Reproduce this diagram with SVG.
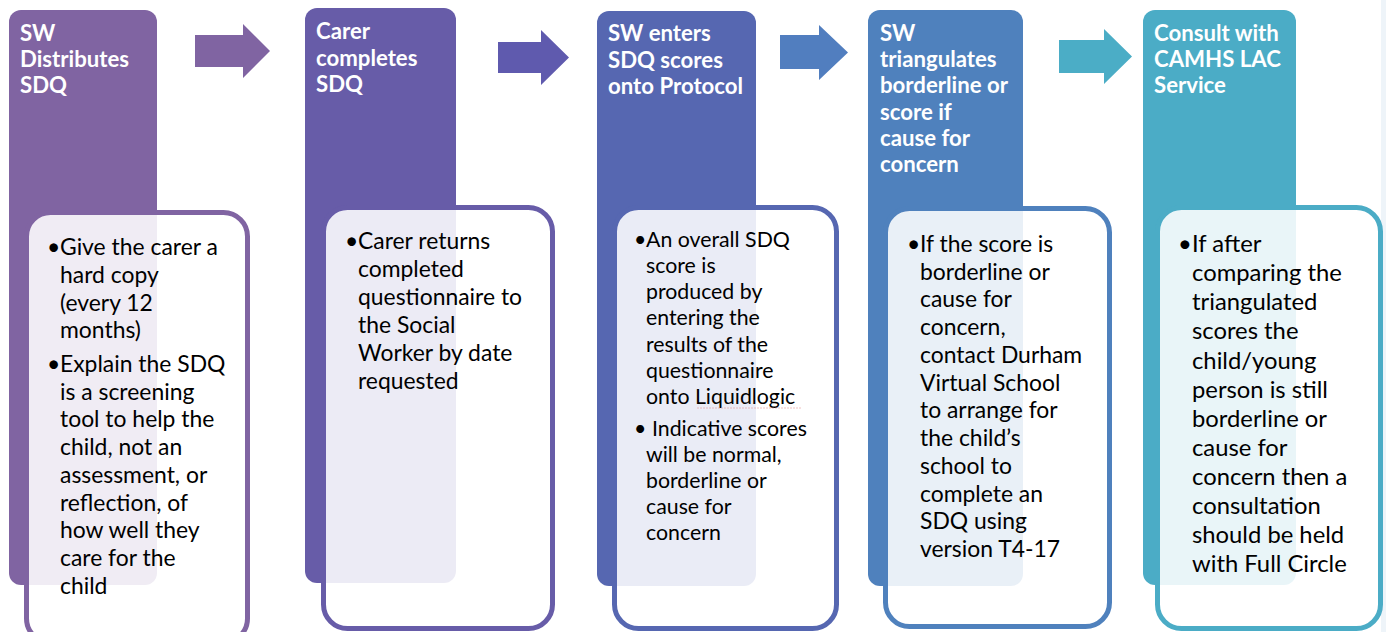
<svg xmlns="http://www.w3.org/2000/svg" width="1386" height="632" viewBox="0 0 1386 632">
<style>
.hdr{font-family:Lato,"Open Sans","Liberation Sans",sans-serif;font-weight:700;font-size:22.2px;fill:#ffffff}
.body{font-family:Lato,"Open Sans","Liberation Sans",sans-serif;font-size:22.9px;fill:#000000}
.card{fill:#ffffff;fill-opacity:0.88;stroke-width:5}
</style>
<rect x="0" y="0" width="1386" height="632" fill="#ffffff"/>
<rect x="1381" y="0" width="5" height="632" fill="#eef4f9"/>
<g id="connectors">
<polygon points="195,35 243,35 243,24 270,51 243,78 243,67 195,67" fill="#8064a2"/>
<polygon points="498,42 541,42 541,30 569,57.5 541,85 541,73 498,73" fill="#5f5aae"/>
<polygon points="780,35 819,35 819,25 848,52.5 819,80 819,69 780,69" fill="#517ebf"/>
<polygon points="1059,40 1104,40 1104,29 1132,56.5 1104,84 1104,73 1059,73" fill="#4badc6"/>
</g>
<g id="step1">
<rect x="9" y="10" width="148" height="575" rx="12" fill="#8064a2"/>
<text class="hdr" x="20"><tspan x="20" y="41">SW</tspan><tspan x="20" y="67">Distributes</tspan><tspan x="20" y="93">SDQ</tspan></text>
<rect class="card" x="26.5" y="212.5" width="221" height="430" rx="24" stroke="#8064a2"/>
<text class="body"><tspan x="47" y="255">•</tspan><tspan x="60" y="255">Give the carer a</tspan><tspan x="60" y="283">hard copy</tspan><tspan x="60" y="311">(every 12</tspan><tspan x="60" y="338">months)</tspan><tspan x="47" y="372">•</tspan><tspan x="60" y="372">Explain the SDQ</tspan><tspan x="60" y="400">is a screening</tspan><tspan x="60" y="427">tool to help the</tspan><tspan x="60" y="455">child, not an</tspan><tspan x="60" y="483">assessment, or</tspan><tspan x="60" y="511">reflection, of</tspan><tspan x="60" y="538">how well they</tspan><tspan x="60" y="566">care for the</tspan><tspan x="60" y="594">child</tspan></text>
</g>
<g id="step2">
<rect x="305" y="8" width="151" height="575" rx="12" fill="#675ca8"/>
<text class="hdr"><tspan x="316" y="39">Carer</tspan><tspan x="316" y="66">completes</tspan><tspan x="316" y="92">SDQ</tspan></text>
<rect class="card" x="323.5" y="207.5" width="229" height="421" rx="24" stroke="#675ca8"/>
<text class="body"><tspan x="345" y="249">•</tspan><tspan x="358" y="249">Carer returns</tspan><tspan x="358" y="277">completed</tspan><tspan x="358" y="305">questionnaire to</tspan><tspan x="358" y="333">the Social</tspan><tspan x="358" y="361">Worker by date</tspan><tspan x="358" y="389">requested</tspan></text>
</g>
<g id="step3">
<rect x="597" y="11" width="159" height="575" rx="12" fill="#5667b1"/>
<text class="hdr"><tspan x="608" y="41">SW enters</tspan><tspan x="608" y="68">SDQ scores</tspan><tspan x="608" y="94">onto Protocol</tspan></text>
<rect class="card" x="614.5" y="207.5" width="222" height="421" rx="24" stroke="#5667b1"/>
<text class="body" style="font-size:21.3px"><tspan x="634" y="247">•</tspan><tspan x="646" y="247">An overall SDQ</tspan><tspan x="646" y="273">score is</tspan><tspan x="646" y="299">produced by</tspan><tspan x="646" y="325">entering the</tspan><tspan x="646" y="352">results of the</tspan><tspan x="646" y="378">questionnaire</tspan><tspan x="646" y="404">onto Liquidlogic</tspan><tspan x="634" y="436">•</tspan><tspan x="652" y="436">Indicative scores</tspan><tspan x="646" y="462">will be normal,</tspan><tspan x="646" y="488">borderline or</tspan><tspan x="646" y="514">cause for</tspan><tspan x="646" y="540">concern</tspan></text>
<line x1="697" y1="408" x2="801" y2="408" stroke="#e08080" stroke-width="0.8" stroke-dasharray="2,1" opacity="0.6"/>
</g>
<g id="step4">
<rect x="868" y="10" width="155" height="576" rx="12" fill="#4f81bd"/>
<text class="hdr"><tspan x="880" y="41">SW</tspan><tspan x="880" y="67">triangulates</tspan><tspan x="880" y="93">borderline or</tspan><tspan x="880" y="120">score if</tspan><tspan x="880" y="146">cause for</tspan><tspan x="880" y="172">concern</tspan></text>
<rect class="card" x="885.5" y="208.5" width="224" height="418" rx="24" stroke="#4f81bd"/>
<text class="body"><tspan x="907" y="252">•</tspan><tspan x="920" y="252">If the score is</tspan><tspan x="920" y="280">borderline or</tspan><tspan x="920" y="307">cause for</tspan><tspan x="920" y="335">concern,</tspan><tspan x="920" y="363">contact Durham</tspan><tspan x="920" y="391">Virtual School</tspan><tspan x="920" y="418">to arrange for</tspan><tspan x="920" y="446">the child’s</tspan><tspan x="920" y="474">school to</tspan><tspan x="920" y="502">complete an</tspan><tspan x="920" y="529">SDQ using</tspan><tspan x="920" y="557">version T4-17</tspan></text>
</g>
<g id="step5">
<rect x="1143" y="10" width="153" height="575" rx="12" fill="#4bacc6"/>
<text class="hdr"><tspan x="1154" y="41">Consult with</tspan><tspan x="1154" y="67">CAMHS LAC</tspan><tspan x="1154" y="93">Service</tspan></text>
<rect class="card" x="1157.5" y="207.5" width="223" height="421" rx="24" stroke="#4bacc6"/>
<text class="body" style="font-size:23.8px"><tspan x="1178" y="252">•</tspan><tspan x="1192" y="252">If after</tspan><tspan x="1192" y="281">comparing the</tspan><tspan x="1192" y="310">triangulated</tspan><tspan x="1192" y="339">scores the</tspan><tspan x="1192" y="369">child/young</tspan><tspan x="1192" y="398">person is still</tspan><tspan x="1192" y="427">borderline or</tspan><tspan x="1192" y="456">cause for</tspan><tspan x="1192" y="485">concern then a</tspan><tspan x="1192" y="514">consultation</tspan><tspan x="1192" y="543">should be held</tspan><tspan x="1192" y="572">with Full Circle</tspan></text>
</g>
</svg>
